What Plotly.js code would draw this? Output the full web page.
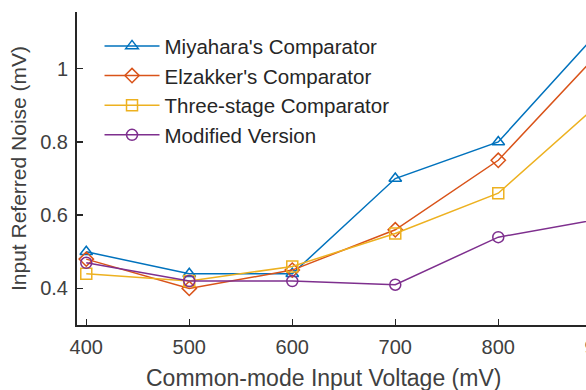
<!DOCTYPE html>
<html><head><meta charset="utf-8">
<script src="https://cdn.plot.ly/plotly-3.0.1.min.js"></script>
<style>html,body{margin:0;padding:0;background:#fff;width:586px;height:390px;overflow:hidden;}#chart{width:640px;height:390px;}</style>
</head><body><div id="chart"></div>
<script>
const voltages = [400, 500, 600, 700, 800, 900];
const miyahara = [0.50, 0.44, 0.44, 0.70, 0.80, 1.11];
const elzakker = [0.48, 0.40, 0.45, 0.56, 0.75, 1.05];
const threeStage = [0.44, 0.42, 0.46, 0.55, 0.66, 0.91];
const modified = [0.47, 0.42, 0.42, 0.41, 0.54, 0.59];
const names = ["Miyahara's Comparator", "Elzakker's Comparator", "Three-stage Comparator", "Modified Version"];
const colors = ["#0072BD", "#D95319", "#EDB120", "#7E2F8E"];
const symbols = ["triangle-up-open", "diamond-open", "square-open", "circle-open"];
const series = [miyahara, elzakker, threeStage, modified];
const xTicks = [400, 500, 600, 700, 800, 900];
const yTicks = [0.4, 0.6, 0.8, 1];
const xTitle = 'Common-mode Input Voltage (mV)';
const yTitle = 'Input Referred Noise (mV)';

const traces = series.map((ys, i) => ({
  x: voltages, y: ys, name: names[i], type: 'scatter', mode: 'lines+markers',
  line: {color: colors[i], width: 1.5},
  marker: {symbol: symbols[i], size: 11, color: colors[i], line: {color: colors[i], width: 1.5}}
}));

const layout = {
  width: 640, height: 390,
  margin: {l: 77, r: 0, t: 12, b: 65},
  paper_bgcolor: '#fff', plot_bgcolor: '#fff',
  font: {family: 'Liberation Sans, Arial, sans-serif', color: '#404040', size: 20},
  showlegend: true,
  legend: {x: 0.04, y: 0.955, xanchor: 'left', yanchor: 'top', bgcolor: 'rgba(255,255,255,0)',
    font: {size: 20.5, color: '#262626'}, tracegroupgap: 0, itemwidth: 55},
  xaxis: {range: [391, 937.6], tickvals: xTicks, ticktext: xTicks.map(String),
    showgrid: false, zeroline: false, showline: true, linecolor: '#262626', linewidth: 2,
    ticks: 'inside', ticklen: 6, tickwidth: 1.5, tickcolor: '#262626', ticklabelstandoff: 3,
    tickfont: {size: 20, color: '#404040'}},
  yaxis: {range: [0.3, 1.155], tickvals: yTicks, ticktext: yTicks.map(String),
    showgrid: false, zeroline: false, showline: true, linecolor: '#262626', linewidth: 2,
    ticks: 'inside', ticklen: 6, tickwidth: 1.5, tickcolor: '#262626', ticklabelstandoff: 3,
    tickfont: {size: 20, color: '#404040'},
    title: {text: yTitle, font: {size: 21, color: '#404040'}, standoff: 8}},
  annotations: [{text: xTitle, xref: 'paper', yref: 'paper', x: 0.437, y: 0, yshift: -53,
    xanchor: 'center', yanchor: 'middle', showarrow: false, font: {size: 23, color: '#404040'}}]
};
Plotly.newPlot('chart', traces, layout, {displayModeBar: false, staticPlot: true});
</script></body></html>
